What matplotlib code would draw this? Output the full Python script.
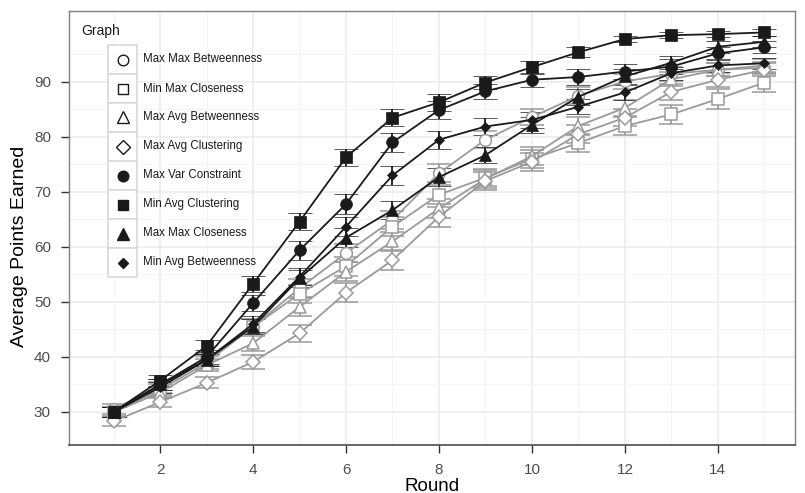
import matplotlib.pyplot as plt
from matplotlib.lines import Line2D
from matplotlib.patches import Rectangle

plt.rcParams['font.family'] = ['Liberation Sans', 'DejaVu Sans']

rounds = list(range(1, 16))

graph_names = ["Max Max Betweenness", "Min Max Closeness", "Max Avg Betweenness",
               "Max Avg Clustering", "Max Var Constraint", "Min Avg Clustering",
               "Max Max Closeness", "Min Avg Betweenness"]

# mean points per round
max_max_betw = [30.5, 34.5, 39.5, 45.5, 52.5, 58.9, 64.9, 73.4, 79.5, 83.6, 87.5, 90.1, 91.5, 92.2, 92.6]
min_max_clos = [30.0, 34.0, 39.0, 45.5, 51.5, 56.5, 63.7, 69.5, 72.6, 76.0, 78.9, 82.0, 84.1, 86.9, 89.9]
max_avg_betw = [30.0, 33.5, 38.5, 42.5, 49.1, 55.5, 61.0, 67.0, 72.4, 76.5, 82.0, 85.3, 90.5, 92.2, 93.0]
max_avg_clus = [28.3, 31.8, 35.3, 39.1, 44.3, 51.7, 57.6, 65.5, 72.0, 75.5, 80.5, 83.5, 88.2, 90.4, 92.2]
max_var_cons = [30.0, 35.0, 40.0, 49.8, 59.4, 67.8, 79.0, 84.9, 88.3, 90.4, 90.9, 91.9, 92.8, 95.2, 96.3]
min_avg_clus = [30.0, 35.7, 42.0, 53.3, 64.6, 76.3, 83.5, 86.3, 89.9, 92.7, 95.4, 97.8, 98.5, 98.7, 99.0]
max_max_clos = [30.0, 35.0, 39.5, 45.5, 54.3, 61.7, 66.7, 72.7, 76.7, 82.2, 87.3, 91.0, 93.5, 96.4, 97.3]
min_avg_betw = [30.0, 34.5, 39.5, 46.0, 54.6, 63.7, 73.0, 79.5, 81.9, 83.1, 85.5, 88.1, 91.6, 93.0, 93.4]

# standard errors (half-length of the error bars)
err_max_max_betw = [0.9, 1.0, 1.1, 1.4, 1.6, 1.7, 1.7, 1.6, 1.5, 1.5, 1.5, 1.4, 1.3, 1.2, 1.1]
err_min_max_clos = [0.9, 1.0, 1.1, 1.4, 1.6, 1.7, 1.7, 1.7, 1.6, 1.6, 1.6, 1.7, 1.8, 1.9, 1.7]
err_max_avg_betw = [0.9, 1.0, 1.1, 1.4, 1.6, 1.7, 1.7, 1.7, 1.6, 1.6, 1.6, 1.5, 1.3, 1.2, 1.1]
err_max_avg_clus = [0.9, 0.9, 1.0, 1.3, 1.5, 1.7, 1.8, 1.8, 1.6, 1.6, 1.6, 1.5, 1.4, 1.3, 1.2]
err_max_var_cons = [0.9, 1.0, 1.2, 1.5, 1.7, 1.8, 1.7, 1.6, 1.4, 1.3, 1.5, 1.4, 1.3, 1.2, 1.1]
err_min_avg_clus = [0.9, 1.0, 1.1, 1.4, 1.6, 1.5, 1.5, 1.5, 1.2, 1.2, 0.9, 0.6, 0.5, 0.5, 0.6]
err_max_max_clos = [0.9, 1.0, 1.1, 1.4, 1.6, 1.7, 1.7, 1.6, 1.5, 1.5, 1.4, 1.3, 1.2, 1.1, 1.0]
err_min_avg_betw = [0.9, 1.0, 1.1, 1.4, 1.6, 1.7, 1.7, 1.6, 1.5, 1.4, 1.4, 1.3, 1.2, 1.1, 1.0]

means = [max_max_betw, min_max_clos, max_avg_betw, max_avg_clus,
         max_var_cons, min_avg_clus, max_max_clos, min_avg_betw]
errs = [err_max_max_betw, err_min_max_clos, err_max_avg_betw, err_max_avg_clus,
        err_max_var_cons, err_min_avg_clus, err_max_max_clos, err_min_avg_betw]

dark = '#1a1a1a'
grey = '#9a9a9a'
# marker, size, filled, colour
styles = [('o', 8.5, False, grey), ('s', 8.0, False, grey), ('^', 9.0, False, grey), ('D', 7.5, False, grey),
          ('o', 8.5, True, dark), ('s', 8.0, True, dark), ('^', 9.0, True, dark), ('D', 5.5, True, dark)]

W, H = 805, 493
fig = plt.figure(figsize=(W / 100, H / 100), dpi=100)
ax = fig.add_axes([69 / W, 1 - 445 / H, (795 - 69) / W, (445 - 11) / H])

for name, m, e, (mk, ms, filled, col) in zip(graph_names, means, errs, styles):
    ax.errorbar(rounds, m, yerr=e, color=col, lw=1.3, elinewidth=1.3, capsize=8.5, capthick=1.3,
                marker=mk, ms=ms, mfc=col if filled else 'white', mec=col, mew=1.1 if not filled else 0.5,
                zorder=3)

ax.set_xlim(0.04, 15.66)
ax.set_ylim(24.0, 102.9)
ax.set_xticks([2, 4, 6, 8, 10, 12, 14])
ax.set_xticks([1, 3, 5, 7, 9, 11, 13, 15], minor=True)
ax.set_yticks([30, 40, 50, 60, 70, 80, 90])
ax.set_yticks([35, 45, 55, 65, 75, 85, 95], minor=True)
ax.grid(which='major', color='#ebebeb', lw=1.1, zorder=0)
ax.grid(which='minor', color='#f3f3f3', lw=0.6, zorder=0)
ax.set_axisbelow(True)
ax.tick_params(which='major', direction='out', length=6, width=1, color='#333333',
               labelsize=11, labelcolor='#4d4d4d', pad=7)
ax.tick_params(which='minor', length=0)
for side in ['left', 'top', 'right']:
    ax.spines[side].set_color('#808080')
    ax.spines[side].set_linewidth(1.0)
ax.spines['bottom'].set_color('#4d4d4d')
ax.spines['bottom'].set_linewidth(1.2)

ax.set_xlabel("Round", fontsize=13.5)
ax.set_ylabel("Average Points Earned", fontsize=14)
ax.xaxis.set_label_coords(0.5, -0.075)
ax.yaxis.set_label_coords(-0.057, 0.4585)

# legend drawn by hand in figure pixels
def fx(px):
    return px / W

def fy(py):
    return 1 - py / H

fig.text(fx(81), fy(31), "Graph", fontsize=10, va='center', ha='left', color='#1a1a1a')
for i, (name, (mk, ms, filled, col)) in enumerate(zip(graph_names, styles)):
    top = 45 + 29 * i
    fig.add_artist(Rectangle((fx(108), fy(top + 29)), 29 / W, 29 / H, transform=fig.transFigure,
                             facecolor='white', edgecolor='#d9d9d9', lw=1.2))
    cy = top + 14.5
    fig.add_artist(Line2D([fx(122.5)], [fy(cy)], transform=fig.transFigure, marker=mk,
                          ms=ms * 0.9, mfc=dark if filled else 'white', mec=dark, mew=1.0, ls='none'))
    fig.text(fx(143), fy(cy), name, fontsize=8.3, va='center', ha='left', color='#1a1a1a')

fig.savefig('out.png', dpi=100)
